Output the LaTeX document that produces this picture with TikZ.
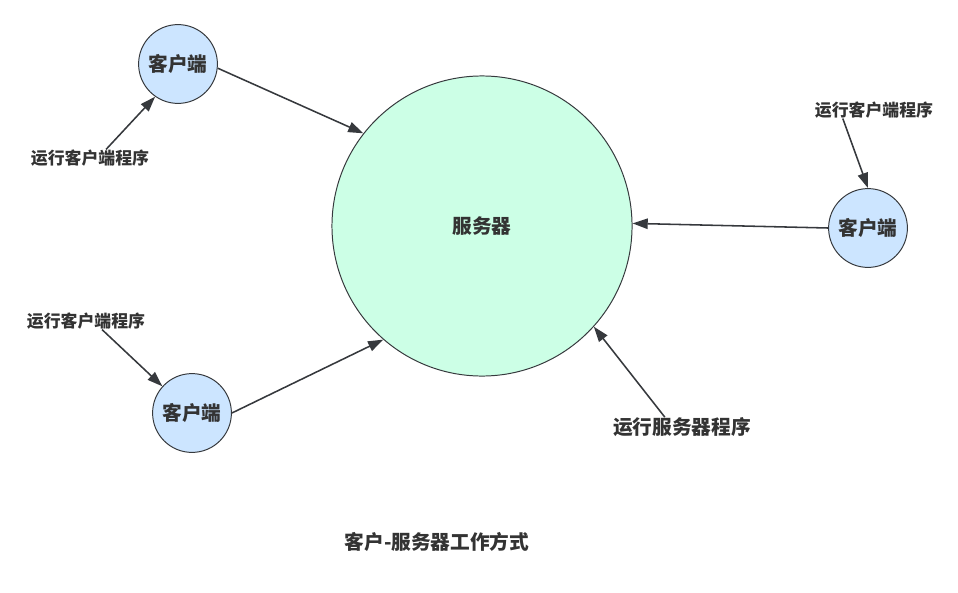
\documentclass[tikz,border=0pt]{standalone}
\usepackage{fontspec}
\usepackage{xcolor}
\usepackage{tikz}
\usetikzlibrary{arrows.meta, positioning}
\newfontfamily\cjk{Noto Sans CJK SC}

\definecolor{clientfill}{HTML}{CCE5FF}
\definecolor{serverfill}{HTML}{CCFFE6}
\definecolor{edgegray}{HTML}{36393D}
\definecolor{textgray}{HTML}{333333}

\begin{document}
\begin{tikzpicture}[
    x=0.025cm, y=-0.025cm,
    client/.style={circle, draw=edgegray, line width=0.7pt, fill=clientfill, minimum size=1.97cm,
                   inner sep=0pt, font=\cjk\bfseries\fontsize{14}{16}\selectfont, text=textgray},
    server/.style={circle, draw=edgegray, line width=0.7pt, fill=serverfill, minimum size=7.5cm,
                   inner sep=0pt, font=\cjk\bfseries\fontsize{14}{16}\selectfont, text=textgray},
    note/.style={inner sep=0pt, font=\cjk\bfseries\fontsize{12}{14}\selectfont, text=textgray},
    bignote/.style={inner sep=0pt, font=\cjk\bfseries\fontsize{14}{16}\selectfont, text=textgray},
    arrow/.style={-{Triangle[length=0.38cm, width=0.26cm]}, line width=1.1pt, draw=edgegray},
]
\useasboundingbox (0,0) rectangle (958,592);

\node[server] (srv) at (482,226) {服务器};

\node[client] (c1) at (178,64)  {客户端};
\node[client] (cr) at (868,228) {客户端};
\node[client] (c3) at (192,413) {客户端};

\node[note] (l1) at (90,158)  {运行客户端程序};
\node[note] (lr) at (874,110) {运行客户端程序};
\node[note] (l3) at (86,321)  {运行客户端程序};
\node[bignote] (ls) at (682,427) {运行服务器程序};

\node[bignote] (title) at (437,542) {客户-服务器工作方式};

% clients to server
\draw[arrow] (c1.-6) -- (srv.142);
\draw[arrow] (cr.180) -- (srv.1.5);
\draw[arrow] (c3.0) -- (srv.-131);

% programs to machines
\draw[arrow] ([xshift=0.4cm]l1.north) -- (c1.-125);
\draw[arrow] ([xshift=-0.78cm]lr.south) -- (cr.90);
\draw[arrow] ([xshift=0.4cm]l3.south) -- (c3.138);
\draw[arrow] ([xshift=-0.43cm]ls.north) -- (srv.-42);

\end{tikzpicture}
\end{document}
